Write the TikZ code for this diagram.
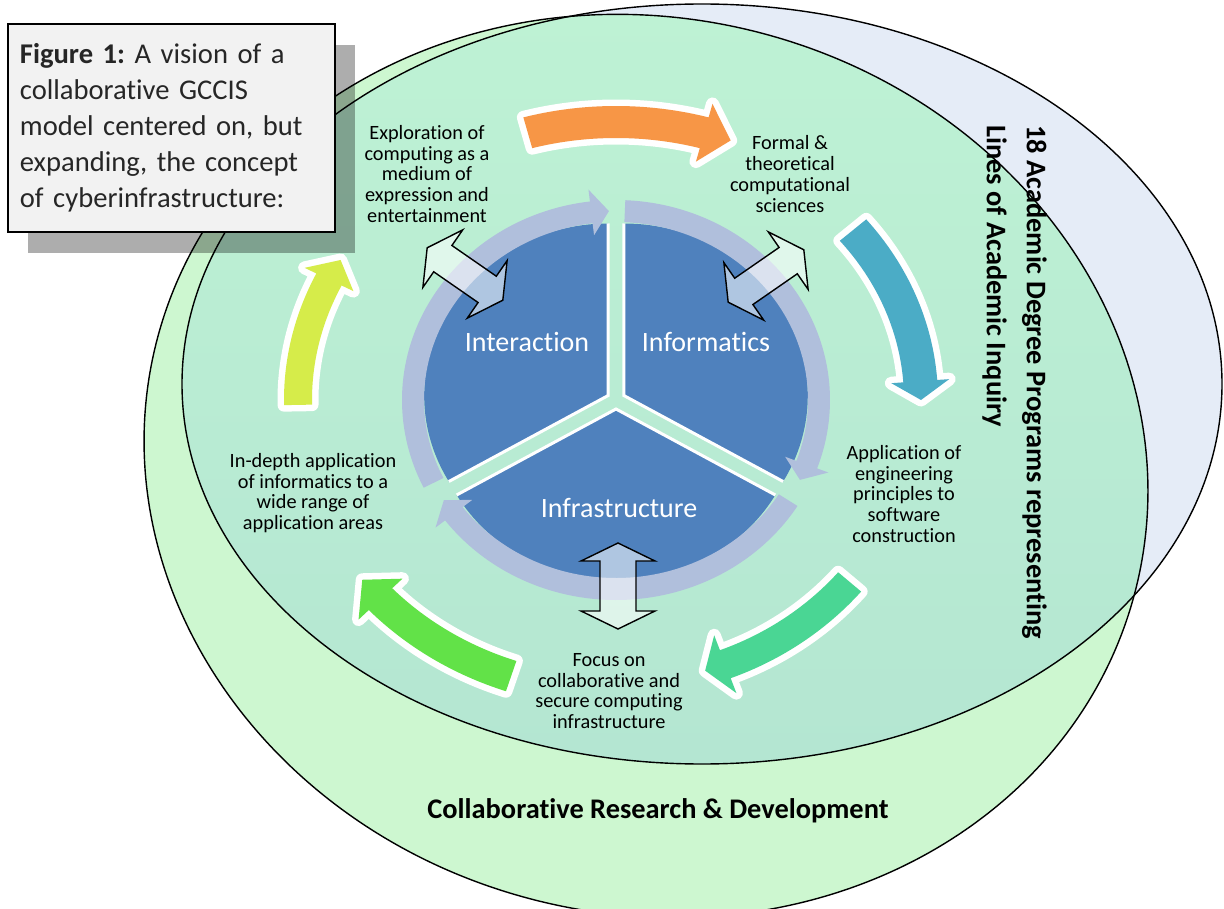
\documentclass[tikz,border=0pt]{standalone}
\usepackage{fontspec}
\setmainfont{Carlito}[Ligatures={NoCommon}]
\usetikzlibrary{calc,shadows}
\frenchspacing

\definecolor{rdfill}{RGB}{205,247,208}
\definecolor{degfill}{RGB}{229,236,247}
\definecolor{overtop}{RGB}{190,242,212}
\definecolor{overbot}{RGB}{180,230,210}
\definecolor{pieblue}{RGB}{79,129,189}
\definecolor{ringblue}{RGB}{176,191,220}
\definecolor{arrorange}{RGB}{247,150,70}
\definecolor{arrcyan}{RGB}{75,172,198}
\definecolor{arrteal}{RGB}{74,214,148}
\definecolor{arrgreen}{RGB}{98,226,72}
\definecolor{arryellow}{RGB}{214,236,74}
\definecolor{capfill}{RGB}{242,242,242}

\tikzset{
  outline/.style={draw=black,line width=1.4pt},
  lbl/.style={align=center,font=\fontsize{20.3}{20.8}\selectfont,inner sep=0pt},
  slicelbl/.style={text=white,font=\fontsize{28}{34}\selectfont,inner sep=0pt,anchor=base},
  slice/.style={fill=pieblue},
  sliceedge/.style={draw=white,line width=3pt},
  ringarr/.style={fill=ringblue},
  bigarr/.style={fill=#1,preaction={draw=white,line width=13pt,line join=round}},
  dblarr/.style={draw=black,line width=1.4pt,fill=white,fill opacity=.55},
  boldlbl/.style={font=\bfseries\fontsize{28.4}{40}\selectfont,inner sep=0pt},
  capbox/.style={draw=black,line width=1.8pt,fill=capfill,anchor=north west,
    minimum width=327pt,minimum height=208pt,text width=303pt,inner xsep=12pt,
    inner ysep=0pt,align=left,font=\fontsize{28.6}{36}\selectfont,text=black!85,
    drop shadow={shadow xshift=20pt,shadow yshift=-21pt,opacity=.32,fill=black}}
}

% curved block arrow running around (ctr)
% #1 style, #2/#3 radii, #4 tail angle, #5 head angle, #6 tip angle, #7 half body, #8 half head
\newcommand{\bentarrow}[8]{%
  \pgfmathsetmacro\rxo{#2+#7}\pgfmathsetmacro\ryo{#3+#7}%
  \pgfmathsetmacro\rxi{#2-#7}\pgfmathsetmacro\ryi{#3-#7}%
  \pgfmathsetmacro\rxh{#2+#8}\pgfmathsetmacro\ryh{#3+#8}%
  \pgfmathsetmacro\rxl{#2-#8}\pgfmathsetmacro\ryl{#3-#8}%
  \path[#1] ($(ctr)+({#4}:{\rxo} and {\ryo})$)
    arc[start angle=#4,end angle=#5,x radius=\rxo,y radius=\ryo]
    -- ($(ctr)+({#5}:{\rxh} and {\ryh})$)
    -- ($(ctr)+({#6}:{#2} and {#3})$)
    -- ($(ctr)+({#5}:{\rxl} and {\ryl})$)
    -- ($(ctr)+({#5}:{\rxi} and {\ryi})$)
    arc[start angle=#5,end angle=#4,x radius=\rxi,y radius=\ryi]
    -- cycle;}

% two-headed block arrow: #1 centre, #2 angle, #3 half length, #4 half shaft, #5 half head, #6 head length
\newcommand{\dblarrow}[6]{%
  \begin{scope}[shift={#1},rotate=#2]
    \path[dblarr] (-#3,0) -- ({-#3+#6},#5) -- ({-#3+#6},#4) -- ({#3-#6},#4)
      -- ({#3-#6},#5) -- (#3,0) -- ({#3-#6},-#5) -- ({#3-#6},-#4)
      -- ({-#3+#6},-#4) -- ({-#3+#6},-#5) -- cycle;
  \end{scope}}

\begin{document}
\begin{tikzpicture}[x=1pt,y=-1pt]
  \useasboundingbox (0,0) rectangle (1224,909);
  \clip (0,0) rectangle (1224,909);
  \fill[white] (0,0) rectangle (1224,909);

  % degree programs and research ellipses
  \path[fill=degfill] (702,384) ellipse [x radius=520,y radius=380];
  \path[fill=rdfill,rotate around={-14:(646,466)}] (646,466) ellipse [x radius=505,y radius=448];
  \begin{scope}
    \clip[rotate around={-14:(646,466)}] (646,466) ellipse [x radius=505,y radius=448];
    \shade[top color=overtop,bottom color=overbot] (702,384) ellipse [x radius=520,y radius=380];
  \end{scope}
  \draw[outline] (702,384) ellipse [x radius=520,y radius=380];
  \draw[outline,rotate around={-14:(646,466)}] (646,466) ellipse [x radius=505,y radius=448];

  % pie
  \coordinate (ctr) at (616,400);
  \foreach \a/\lo in {210/150,330/270,90/30}{
    \path ($(ctr)+(\a:9)$) coordinate (o);
    \fill[slice] (o) -- ++({\lo}:{184} and {172})
      arc[start angle=\lo,end angle=\lo+120,x radius=184,y radius=172] -- cycle;
    \draw[sliceedge] ($(o)+({\lo}:{184} and {172})$) -- (o)
      -- ($(o)+({\lo+120}:{184} and {172})$);
  }
  \bentarrow{ringarr}{203}{189}{154}{263}{268}{11}{23}
  \bentarrow{ringarr}{203}{189}{272.5}{380}{385}{11}{23}
  \bentarrow{ringarr}{203}{189}{32}{143}{148}{11}{23}

  \node[slicelbl] (interaction) at (527,352) {Interaction};
  \node[slicelbl] (informatics) at (706,352) {Informatics};
  \node[slicelbl] (infrastructure) at (619,517) {Infrastructure};

  \dblarrow{(465,274)}{-34.7}{46}{16}{35}{19}
  \dblarrow{(766,276)}{34.7}{46}{16}{35}{19}
  \dblarrow{(618,586)}{90}{43}{18}{37}{18}

  % outer cycle
  \bentarrow{bigarr=arrorange}{320}{278}{254}{286}{291}{16}{30}
  \bentarrow{bigarr=arrcyan}{305}{270}{321}{356}{360}{17}{29}
  \bentarrow{bigarr=arrteal}{305}{283}{40}{69}{73}{15}{31}
  \bentarrow{bigarr=arrgreen}{322}{292}{109}{137}{142}{16}{30}
  \bentarrow{bigarr=arryellow}{318}{280}{179}{205.5}{210}{14}{27}

  \node[lbl] (explore) at (427,174) {Exploration of\\computing as a\\medium of\\expression and\\entertainment};
  \node[lbl] (formal) at (790,174) {Formal \&\\theoretical\\computational\\sciences};
  \node[lbl] (engineer) at (904,494) {Application of\\engineering\\principles to\\software\\construction};
  \node[lbl] (focus) at (609,691) {Focus on\\collaborative and\\secure computing\\infrastructure};
  \node[lbl] (indepth) at (313,493) {In-depth application\\of informatics to a\\wide range of\\application areas};

  \node[boldlbl,rotate=-90,anchor=north west,align=left] (degrees) at (1047,125)
    {18 Academic Degree Programs representing\\Lines of Academic Inquiry};
  \node[boldlbl,anchor=base] (research) at (658,818) {Collaborative Research \& Development};

  \node[capbox] (caption) at (7,23)
    {\textbf{Figure 1:} A vision of a\\collaborative GCCIS\\model centered on, but\\expanding, the concept\\of cyberinfrastructure:};
\end{tikzpicture}
\end{document}
